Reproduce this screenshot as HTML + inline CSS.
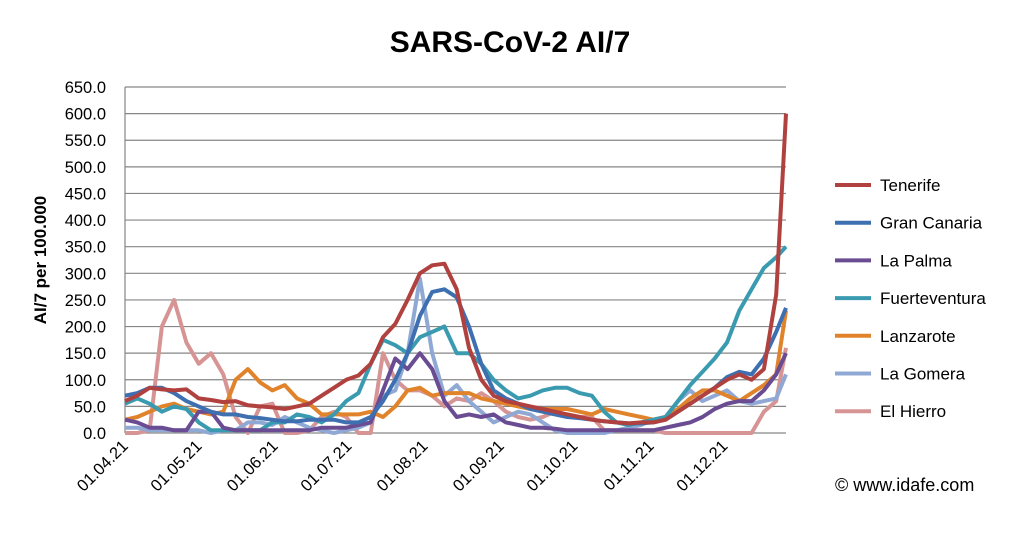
<!DOCTYPE html>
<html><head><meta charset="utf-8"><style>
body{margin:0;background:#fff;}
svg{font-family:"Liberation Sans",sans-serif;}
</style></head><body>
<svg width="1022" height="531">
<text x="510" y="52" text-anchor="middle" font-size="30" font-weight="bold">SARS-CoV-2 AI/7</text>
<g id="grid"></g><g id="series"></g><g id="legend"></g>
<text transform="translate(46,260) rotate(-90)" text-anchor="middle" font-size="17" font-weight="bold">AI/7 per 100.000</text>
<text x="835" y="491" font-size="18">© www.idafe.com</text>
</svg>
<script>
const days=[0,5,10,15,20,25,30,35,40,45,50,55,60,65,70,75,80,85,90,95,100,105,110,115,120,125,130,135,140,145,150,155,160,165,170,175,180,185,190,195,200,205,210,215,220,225,230,235,240,245,250,255,260,265,269];
const xTickLabels=["01.04.21","01.05.21","01.06.21","01.07.21","01.08.21","01.09.21","01.10.21","01.11.21","01.12.21"];
const xTickDays=[0,30,61,91,122,153,183,214,244];
const yTicks=[0,50,100,150,200,250,300,350,400,450,500,550,600,650];
const names=["Tenerife","Gran Canaria","La Palma","Fuerteventura","Lanzarote","La Gomera","El Hierro"];
const colors=["#b0413e","#3e6fb0","#6a4c93","#3a9bb0","#e0832a","#8fa9d4","#d69594"];
const tenerife=[60,70,85,82,80,82,65,62,58,60,52,50,48,45,50,55,70,85,100,108,130,180,205,250,300,315,318,270,160,100,70,60,55,50,45,40,35,30,25,22,20,18,20,20,25,40,55,70,85,100,110,100,120,260,600];
const granCanaria=[70,75,85,85,75,60,50,40,35,35,30,28,25,22,22,25,25,25,20,20,30,60,100,150,220,265,270,255,200,130,80,65,55,45,40,35,30,28,25,22,20,18,18,20,25,40,55,70,85,105,115,110,140,190,235];
const laPalma=[25,20,10,10,5,5,40,40,10,5,5,5,5,5,5,5,10,10,10,15,20,80,140,120,150,120,60,30,35,30,35,20,15,10,10,8,5,5,5,5,5,5,5,5,10,15,20,30,45,55,60,60,80,110,150];
const fuerteventura=[55,65,55,40,50,45,20,5,5,5,5,5,20,20,35,30,20,35,60,75,130,175,165,150,180,190,200,150,150,130,100,80,65,70,80,85,85,75,70,40,20,15,20,25,30,60,90,115,140,170,230,270,310,330,350];
const lanzarote=[25,30,40,50,55,45,40,35,40,100,120,95,80,90,65,55,35,35,35,35,40,30,50,80,85,70,75,75,75,65,60,55,50,45,45,45,45,40,35,45,40,35,30,25,30,45,65,80,80,70,60,75,90,110,230];
const laGomera=[10,10,5,5,5,5,5,0,5,5,20,20,15,30,20,10,5,0,5,10,20,70,80,150,290,150,70,90,60,40,20,30,40,35,20,5,0,0,0,0,5,10,15,25,30,60,80,60,70,80,60,55,60,65,110];
const elHierro=[0,0,5,200,250,170,130,150,110,30,0,50,55,0,0,5,30,40,30,0,0,150,100,80,80,70,50,65,60,75,60,40,30,25,30,40,35,30,30,5,5,5,5,5,0,0,0,0,0,0,0,0,40,60,160];
const allSeries=[tenerife,granCanaria,laPalma,fuerteventura,lanzarote,laGomera,elHierro];
const NS="http://www.w3.org/2000/svg";
const x0=125,x1=786,y0=433,y1=87;
const xs=d=>x0+d*(x1-x0)/269;
const ys=v=>y0-v*(y0-y1)/650;
function mk(t,a,p){const e=document.createElementNS(NS,t);for(const k in a)e.setAttribute(k,a[k]);p.appendChild(e);return e;}
const grid=document.getElementById('grid');
yTicks.forEach(v=>{
 const l=mk('line',{x1:x0,x2:x1,y1:ys(v),y2:ys(v),stroke:'#868686','stroke-width':1.2},grid);
 
 
 const t=mk('text',{x:106,y:ys(v)+6,'text-anchor':'end','font-size':16.5},grid);
 t.textContent=v.toFixed(1);
 
 
});
const ax=mk('line',{x1:x0,x2:x0,y1:y1,y2:y0,stroke:'#868686','stroke-width':1.2},grid);


xTickLabels.forEach((lb,i)=>{
 const x=xs(xTickDays[i]);
 const t=mk('text',{transform:`translate(${x+4},${447}) rotate(-45)`,'text-anchor':'end','font-size':16.5},grid);
 t.textContent=lb;
 
 
});
const sg=document.getElementById('series');
for(let s=allSeries.length-1;s>=0;s--){
 const d=allSeries[s].map((v,i)=>(i?'L':'M')+xs(days[i]).toFixed(1)+','+ys(v).toFixed(1)).join('');
 const p=mk('path',{d:d,fill:'none',stroke:colors[s],'stroke-width':4,'stroke-linejoin':'round'},sg);
 
 
}
const lg=document.getElementById('legend');
names.forEach((n,i)=>{
 const y=185+i*37.7;
 const g=mk('g',{},lg);
 
 
 mk('line',{x1:835,x2:871,y1:y,y2:y,stroke:colors[i],'stroke-width':4},g);
 const t=mk('text',{x:880,y:y+6,'font-size':17},g);
 t.textContent=n;
});
</script>
</body></html>
